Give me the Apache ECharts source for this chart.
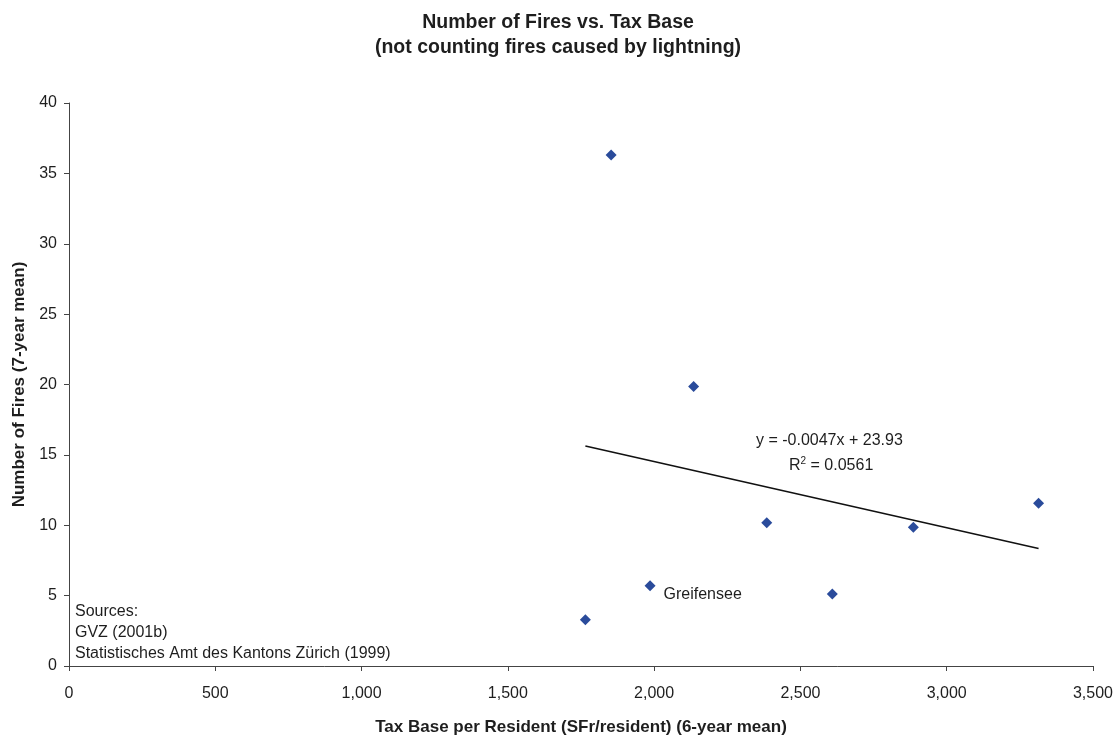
<!DOCTYPE html>
<html>
<head>
<meta charset="utf-8">
<script src="https://cdn.jsdelivr.net/npm/echarts@6/dist/echarts.min.js"></script>
<style>html,body{margin:0;padding:0;background:#fff}#c{width:1116px;height:741px}</style>
</head>
<body>
<div id="c"></div>
<script>
// Data
const taxBase = [1765, 1853, 1986, 2135, 2385, 2609, 2886, 3314];
const fires   = [3.28, 36.3, 5.71, 19.86, 10.17, 5.11, 9.85, 11.57];
const pointNames = ['', '', 'Greifensee', '', '', '', '', ''];
const trendSlope = -0.0047;
const trendIntercept = 23.93;
const equationText = 'y = -0.0047x + 23.93';
const rSquared = '0.0561';
const sourceLines = ['Sources:', 'GVZ (2001b)', 'Statistisches Amt des Kantons Zürich (1999)'];

const FONT = '"Liberation Sans", Arial, sans-serif';
const TXT = '#1e1e1e';
const pts = taxBase.map((x, i) => ({ value: [x, fires[i]], name: pointNames[i],
  label: { show: !!pointNames[i] } }));
const xMin = Math.min(...taxBase), xMax = Math.max(...taxBase);
const trend = [[xMin, trendIntercept + trendSlope * xMin], [xMax, trendIntercept + trendSlope * xMax]];

const chart = echarts.init(document.getElementById('c'));
chart.setOption({
  animation: false,
  backgroundColor: '#fff',
  textStyle: { fontFamily: FONT },
  title: {
    text: 'Number of Fires vs. Tax Base\n(not counting fires caused by lightning)',
    left: 'center', top: 5,
    textStyle: { fontFamily: FONT, fontSize: 19.5, fontWeight: 'bold', color: TXT, lineHeight: 25 }
  },
  grid: { left: 69, right: 16, top: 103, bottom: 64, containLabel: false },
  xAxis: {
    type: 'value', min: 0, max: 3500, interval: 500,
    name: 'Tax Base per Resident (SFr/resident) (6-year mean)',
    nameLocation: 'middle', nameGap: 53,
    nameTextStyle: { fontFamily: FONT, fontSize: 17, fontWeight: 'bold', color: TXT },
    axisLine: { show: true, lineStyle: { color: '#444', width: 1 } },
    axisTick: { show: true, inside: false, length: 5, lineStyle: { color: '#444' } },
    axisLabel: { fontFamily: FONT, fontSize: 16, color: TXT, margin: 20,
      formatter: v => v.toLocaleString('en-US') },
    splitLine: { show: false }
  },
  yAxis: {
    type: 'value', min: 0, max: 40, interval: 5,
    name: 'Number of Fires (7-year mean)',
    nameLocation: 'middle', nameGap: 40, nameRotate: 90,
    nameTextStyle: { fontFamily: FONT, fontSize: 17, fontWeight: 'bold', color: TXT },
    axisLine: { show: true, lineStyle: { color: '#444', width: 1 } },
    axisTick: { show: true, inside: false, length: 5, lineStyle: { color: '#444' } },
    axisLabel: { fontFamily: FONT, fontSize: 16, color: TXT, margin: 12 },
    splitLine: { show: false }
  },
  series: [
    {
      type: 'line', data: trend, symbol: 'none', silent: true,
      lineStyle: { color: '#111', width: 1.6 }, z: 2
    },
    {
      type: 'scatter', data: pts, symbol: 'diamond', symbolSize: 11,
      itemStyle: { color: '#2A4B9B', opacity: 1 }, z: 3,
      label: { position: 'right', offset: [3, 9], formatter: '{b}',
        fontFamily: FONT, fontSize: 16, color: TXT }
    }
  ],
  graphic: [
    { type: 'text', x: 756, y: 441,
      style: { text: equationText, fontFamily: FONT, fontSize: 16, fill: TXT,
        align: 'left', verticalAlign: 'middle' } },
    { type: 'text', x: 789, y: 466,
      style: { text: '{n|R}{s|2}{n| = ' + rSquared + '}', align: 'left', verticalAlign: 'middle',
        rich: {
          n: { fontFamily: FONT, fontSize: 16, fill: TXT, color: TXT, lineHeight: 20 },
          s: { fontFamily: FONT, fontSize: 10, fill: TXT, color: TXT, lineHeight: 20, verticalAlign: 'top' }
        } } },
    { type: 'text', x: 75, y: 601,
      style: { text: sourceLines.join('\n'), lineHeight: 21, fontFamily: FONT, fontSize: 16, fill: TXT } }
  ]
});
</script>
</body>
</html>
